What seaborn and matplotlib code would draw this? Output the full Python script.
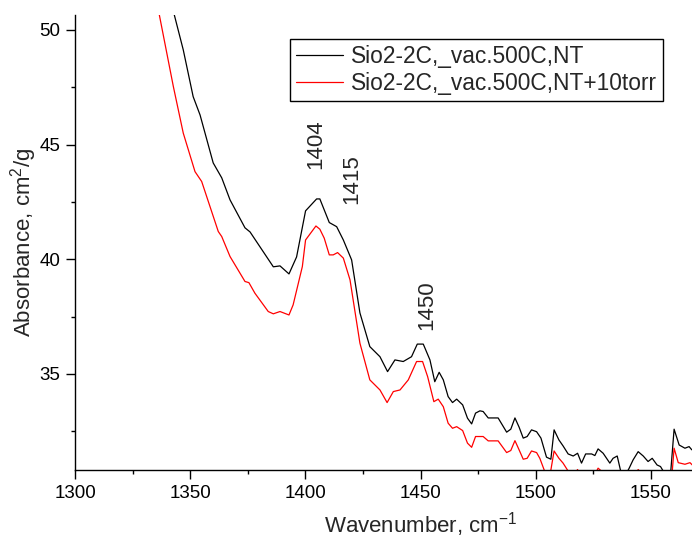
import numpy as np
import pandas as pd
import matplotlib
matplotlib.use('Agg')
import matplotlib.pyplot as plt
import seaborn as sns

# ------------------------------------------------------------
# Values
# ------------------------------------------------------------
labels = ["Sio2-2C,_vac.500C,NT", "Sio2-2C,_vac.500C,NT+10torr"]

wn_nt = [1342.0, 1343.1, 1347.0, 1351.3, 1354.3, 1360.0, 1363.7, 1367.3, 1373.8,
         1376.0, 1386.1, 1389.0, 1392.9, 1396.2, 1400.1, 1404.9, 1406.3, 1410.4,
         1413.6, 1416.5, 1420.1, 1423.7, 1428.0, 1432.4, 1435.7, 1438.9, 1442.5,
         1446.1, 1448.6, 1451.2, 1454.1, 1456.2, 1458.1, 1459.9, 1462.0, 1463.9,
         1465.7, 1468.3, 1470.4, 1472.2, 1473.9, 1475.8, 1477.2, 1479.4, 1483.7,
         1487.4, 1489.2, 1491.0, 1492.8, 1494.6, 1496.3, 1498.2, 1500.4, 1502.3,
         1504.7, 1506.6, 1508.0, 1510.1, 1511.9, 1514.1, 1516.3, 1518.2, 1519.9,
         1521.7, 1524.3, 1525.7, 1527.1, 1529.3, 1532.2, 1533.6, 1535.4, 1536.8,
         1538.5, 1540.6, 1542.3, 1544.5, 1546.7, 1548.8, 1550.6, 1552.7, 1554.2,
         1555.1, 1557.0, 1558.7, 1560.1, 1562.3, 1564.8, 1566.6, 1567.8]
abs_nt = [51.10, 50.66, 49.13, 47.09, 46.29, 44.20, 43.55, 42.59, 41.37,
          41.19, 39.67, 39.71, 39.36, 40.10, 42.11, 42.63, 42.63, 41.60,
          41.42, 40.84, 39.97, 37.66, 36.19, 35.75, 35.10, 35.61, 35.54,
          35.75, 36.30, 36.30, 35.61, 34.66, 35.07, 34.74, 34.01, 33.75,
          33.90, 33.65, 33.07, 32.82, 33.29, 33.39, 33.36, 33.08, 33.08,
          32.46, 32.59, 33.08, 32.68, 32.20, 32.27, 32.56, 32.48, 32.20,
          31.37, 31.28, 32.56, 32.12, 31.86, 31.51, 31.42, 31.54, 31.11,
          31.51, 31.51, 31.44, 31.73, 31.54, 31.11, 31.32, 31.42, 30.81,
          30.50, 30.89, 31.25, 31.61, 31.42, 31.18, 31.32, 31.03, 30.96,
          30.81, 30.40, 30.81, 32.59, 31.90, 31.76, 31.83, 31.69]

wn_10torr = [1336.0, 1336.6, 1342.7, 1347.0, 1352.1, 1355.0, 1362.2, 1363.7, 1367.3,
             1373.8, 1375.5, 1378.1, 1383.9, 1386.1, 1389.0, 1392.9, 1394.7, 1398.7,
             1400.1, 1404.6, 1406.3, 1408.2, 1410.4, 1412.1, 1414.0, 1416.5, 1419.4,
             1423.7, 1428.0, 1432.4, 1435.5, 1438.2, 1441.1, 1444.7, 1448.3, 1450.9,
             1453.1, 1455.8, 1457.7, 1459.9, 1462.0, 1463.9, 1465.7, 1468.3, 1470.4,
             1472.2, 1473.9, 1477.2, 1479.4, 1483.7, 1487.4, 1489.2, 1491.0, 1492.8,
             1494.6, 1496.3, 1498.2, 1500.4, 1501.8, 1503.7, 1505.2, 1506.6, 1508.0,
             1510.1, 1511.9, 1513.8, 1516.3, 1518.2, 1519.9, 1521.7, 1524.3, 1525.7,
             1527.1, 1529.3, 1532.2, 1533.6, 1535.4, 1536.8, 1538.5, 1540.6, 1542.3,
             1544.5, 1546.7, 1548.8, 1550.6, 1552.7, 1554.2, 1555.1, 1557.0, 1558.7,
             1560.1, 1561.9, 1564.8, 1567.0, 1568.0]
abs_10torr = [51.00, 50.66, 47.53, 45.50, 43.82, 43.39, 41.21, 40.99, 40.12,
              39.03, 38.98, 38.52, 37.72, 37.62, 37.72, 37.57, 38.01, 39.68,
              40.84, 41.45, 41.31, 40.92, 40.19, 40.19, 40.29, 40.05, 39.10,
              36.34, 34.74, 34.30, 33.75, 34.23, 34.30, 34.74, 35.54, 35.54,
              34.88, 33.79, 33.90, 33.57, 32.85, 32.63, 32.70, 32.53, 31.98,
              31.80, 32.27, 32.27, 32.08, 32.08, 31.57, 31.66, 32.09, 31.69,
              31.28, 31.32, 31.64, 31.57, 31.32, 30.81, 30.40, 30.81, 31.64,
              31.32, 31.11, 30.81, 30.55, 30.83, 30.30, 30.65, 30.65, 30.60,
              30.89, 30.70, 30.30, 30.50, 30.55, 30.00, 29.70, 30.05, 30.45,
              30.83, 30.60, 30.35, 30.50, 30.20, 30.10, 29.95, 29.60, 30.00,
              31.76, 31.13, 31.06, 31.13, 31.03]

peak_pos = [1404, 1415, 1450]
peak_text_x = [1404.5, 1420.1, 1452.6]
peak_text_y = [45.0, 43.5, 38.0]

# ------------------------------------------------------------
# Plot
# ------------------------------------------------------------
sns.set_style("ticks")
plt.rcParams['font.family'] = ['Liberation Sans', 'DejaVu Sans']
plt.rcParams['mathtext.fontset'] = 'custom'
plt.rcParams['mathtext.rm'] = 'Liberation Sans'
plt.rcParams['mathtext.it'] = 'Liberation Sans:italic'

df = pd.concat([
    pd.DataFrame({"wn": wn_nt, "absorb": abs_nt, "sample": labels[0]}),
    pd.DataFrame({"wn": wn_10torr, "absorb": abs_10torr, "sample": labels[1]}),
])

fig = plt.figure(figsize=(6.92, 5.39), dpi=100)
# axes runs past the right edge of the figure (the reference is cropped)
ax = fig.add_axes([75 / 692, 69 / 539, 691 / 692, 455 / 539])

sns.lineplot(data=df, x="wn", y="absorb", hue="sample",
             palette=["black", "red"], linewidth=0.9, sort=False,
             estimator=None, ax=ax, legend=False)

ax.set_xlim(1300, 1600)
ax.set_ylim(30.81, 50.65)
ax.set_xticks([1300, 1350, 1400, 1450, 1500, 1550])
ax.set_xticks(np.arange(1325, 1600, 50), minor=True)
ax.set_yticks([35, 40, 45, 50])
ax.set_yticks([32.5, 37.5, 42.5, 47.5], minor=True)
ax.tick_params(which="major", length=6.5, width=1, labelsize=13.5, pad=4,
               color="black", labelcolor="black", direction="out")
ax.tick_params(which="minor", length=3, width=1, color="black", direction="out")
sns.despine(ax=ax)
for s in ["left", "bottom"]:
    ax.spines[s].set_color("black")
    ax.spines[s].set_linewidth(1)

ax.set_xlabel("Wavenumber, cm$^{-1}$", fontsize=16, labelpad=6)
ax.set_ylabel("Absorbance, cm$^{2}$/g", fontsize=16, labelpad=0)

for p, tx, ty in zip(peak_pos, peak_text_x, peak_text_y):
    ax.text(tx, ty, str(p), rotation=90, ha="center", va="center", fontsize=16)

handles = [plt.Line2D([], [], color="black", lw=0.9),
           plt.Line2D([], [], color="red", lw=0.9)]
leg = ax.legend(handles, labels, loc="upper right",
                bbox_to_anchor=(663 / 692, 1 - 39 / 539),
                bbox_transform=fig.transFigure, borderaxespad=0,
                fontsize=16.4, frameon=True, fancybox=False, framealpha=1,
                handlelength=2.1, handletextpad=0.35, labelspacing=0.2,
                borderpad=0.25)
leg.get_frame().set_edgecolor("black")
leg.get_frame().set_linewidth(1)

fig.savefig("out.png", dpi=100)
